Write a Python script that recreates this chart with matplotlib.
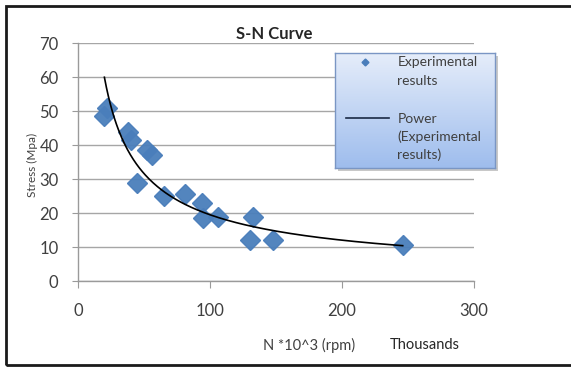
import numpy as np
import matplotlib
matplotlib.use("Agg")
import matplotlib.pyplot as plt
from matplotlib.lines import Line2D
from matplotlib.patches import Rectangle

plt.rcParams['font.family'] = ['Lato', 'DejaVu Sans']

# Experimental results: cycles (thousands) vs stress (MPa)
cycles_k = [20, 22, 37.6, 39.9, 44.7, 52, 55.8, 65, 81, 93.7, 95, 106.3,
            130.3, 132.8, 148, 246]
stress_mpa = [48.5, 50.8, 43.9, 41.5, 28.8, 38.5, 37, 25, 25.6, 22.9, 18.4,
              18.9, 12, 18.9, 12, 10.5]

x_ticks = [0, 100, 200, 300]
y_ticks = [0, 10, 20, 30, 40, 50, 60, 70]

title = "S-N Curve"
x_label = "N *10^3 (rpm)"
x_units = "Thousands"
y_label = "Stress (Mpa)"
series_label = "Experimental\nresults"
trend_label = "Power\n(Experimental\nresults)"

W, H = 571, 367
fig = plt.figure(figsize=(W / 100, H / 100), dpi=100)
fig.patch.set_facecolor("white")

def fx(px):
    return px / W

def fy(py):
    return 1 - py / H

# outer chart frame (left, top and bottom edges visible)
fig.patches.append(Rectangle((fx(6), fy(365)), 1.2, fy(6) - fy(365),
                             transform=fig.transFigure, fill=False,
                             edgecolor="#1a1a1a", linewidth=2.0, zorder=0))

ax = fig.add_axes([fx(78), fy(281), fx(474) - fx(78), fy(43) - fy(281)])
ax.set_xlim(0, 300)
ax.set_ylim(0, 70)
ax.set_xticks(x_ticks)
ax.set_yticks(y_ticks)
ax.grid(axis="y", color="#a6a6a6", linewidth=1.0)
ax.set_axisbelow(True)
for side in ("top", "right"):
    ax.spines[side].set_visible(False)
for side in ("left", "bottom"):
    ax.spines[side].set_color("#9a9a9a")
    ax.spines[side].set_linewidth(1.0)
ax.tick_params(axis="x", direction="out", length=5, color="#9a9a9a",
               labelsize=12, labelcolor="#404040", pad=10.5)
ax.tick_params(axis="y", direction="out", length=4, color="#9a9a9a",
               labelsize=12, labelcolor="#404040", pad=10)

marker_color = "#4a7ebb"
ax.plot(cycles_k, stress_mpa, linestyle="none", marker="D", markersize=10,
        markerfacecolor=marker_color, markeredgecolor=marker_color,
        alpha=0.95, zorder=3)

# power-law trendline fitted in log-log space
b, log_a = np.polyfit(np.log(cycles_k), np.log(stress_mpa), 1)
xs = np.linspace(min(cycles_k), max(cycles_k), 300)
ax.plot(xs, np.exp(log_a) * xs ** b, color="black", linewidth=1.2, zorder=4)

fig.text(fx(274), fy(34), title, ha="center", va="center",
         fontsize=12, fontweight="bold", color="#262626")
fig.text(fx(309), fy(345), x_label, ha="center", va="center",
         fontsize=10.5, color="#404040")
fig.text(fx(425), fy(345), x_units, ha="center", va="center",
         fontsize=10.5, color="#262626")
fig.text(fx(32), fy(165), y_label, ha="center", va="center", rotation=90,
         fontsize=8.5, color="#404040")

# legend panel with vertical blue gradient
lx0, lx1, ly0, ly1 = 335, 495, 53, 168
shadow = fig.add_axes([fx(lx0 + 3), fy(ly1 + 3), fx(lx1) - fx(lx0),
                       fy(ly0) - fy(ly1)])
shadow.set_facecolor("#c8c8c8")
shadow.set_xticks([]); shadow.set_yticks([])
for s in shadow.spines.values():
    s.set_visible(False)
shadow.set_zorder(5)

leg = fig.add_axes([fx(lx0), fy(ly1), fx(lx1) - fx(lx0), fy(ly0) - fy(ly1)])
leg.set_zorder(6)
grad = np.linspace(0, 1, 256).reshape(-1, 1)
top_c = np.array([0.90, 0.93, 0.98])
bot_c = np.array([0.62, 0.74, 0.93])
img = top_c[None, None, :] * (1 - grad[:, :, None]) + bot_c[None, None, :] * grad[:, :, None]
leg.imshow(img, aspect="auto", extent=(0, 1, 0, 1), origin="upper")
leg.set_xlim(0, 1); leg.set_ylim(0, 1)
leg.set_xticks([]); leg.set_yticks([])
for s in leg.spines.values():
    s.set_color("#7a96c4")
    s.set_linewidth(1.0)

leg.plot([0.19], [0.92], marker="D", markersize=3.5, color=marker_color,
         transform=leg.transAxes)
leg.add_line(Line2D([0.07, 0.34], [0.435, 0.435], color="#1a2a44",
                    linewidth=1.2, transform=leg.transAxes))
leg.text(0.39, 0.97, series_label, ha="left", va="top", fontsize=10,
         color="#404040", linespacing=1.7, transform=leg.transAxes)
leg.text(0.39, 0.48, trend_label, ha="left", va="top", fontsize=10,
         color="#404040", linespacing=1.55, transform=leg.transAxes)

fig.savefig("out.png", dpi=100, facecolor="white")
